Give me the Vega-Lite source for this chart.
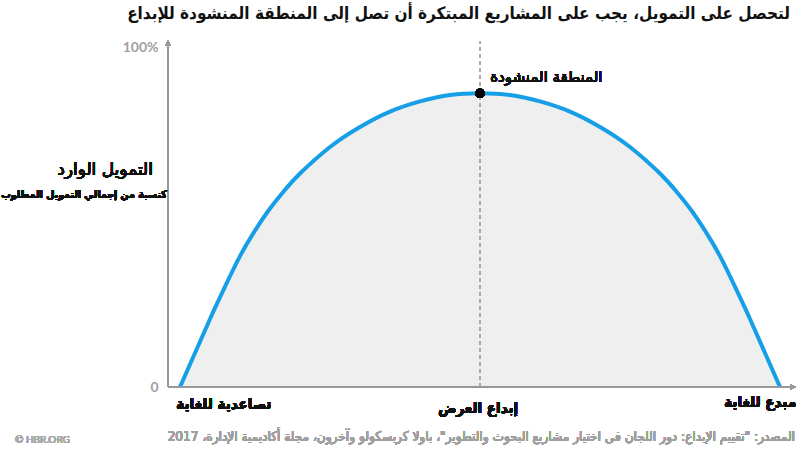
{
  "$schema": "https://vega.github.io/schema/vega-lite/v6.json",
  "autosize": "none",
  "width": 627,
  "height": 340,
  "padding": {"left": 168, "top": 47, "right": 5, "bottom": 63},
  "background": "white",
  "config": {"view": {"stroke": null}},
  "title": {
    "text": "لتحصل على التمويل، يجب على المشاريع المبتكرة أن تصل إلى المنطقة المنشودة للإبداع",
    "anchor": "end",
    "frame": "group",
    "font": "DejaVu Sans Condensed",
    "fontWeight": "bold",
    "fontSize": 17,
    "color": "#111111",
    "offset": 17,
    "dx": -5
  },
  "data": {
    "values": [
      {"pos": 0, "funding": 0},
      {"pos": 2.5, "funding": 10},
      {"pos": 5, "funding": 20},
      {"pos": 7.5, "funding": 29.5},
      {"pos": 10, "funding": 38.5},
      {"pos": 12.5, "funding": 46},
      {"pos": 15, "funding": 52.5},
      {"pos": 17.5, "funding": 58},
      {"pos": 20, "funding": 62.8},
      {"pos": 25, "funding": 70.6},
      {"pos": 30, "funding": 76.5},
      {"pos": 35, "funding": 81},
      {"pos": 40, "funding": 84},
      {"pos": 45, "funding": 85.9},
      {"pos": 50, "funding": 86.4},
      {"pos": 55, "funding": 85.9},
      {"pos": 60, "funding": 84},
      {"pos": 65, "funding": 81},
      {"pos": 70, "funding": 76.5},
      {"pos": 75, "funding": 70.6},
      {"pos": 80, "funding": 62.8},
      {"pos": 82.5, "funding": 58},
      {"pos": 85, "funding": 52.5},
      {"pos": 87.5, "funding": 46},
      {"pos": 90, "funding": 38.5},
      {"pos": 92.5, "funding": 29.5},
      {"pos": 95, "funding": 20},
      {"pos": 97.5, "funding": 10},
      {"pos": 100, "funding": 0}
    ]
  },
  "layer": [
    {
      "mark": {"type": "area", "color": "#efefef", "interpolate": "natural"},
      "encoding": {
        "x": {"field": "pos", "type": "quantitative", "scale": {"domain": [-2, 102.5], "nice": false, "zero": false}, "axis": null},
        "y": {
          "field": "funding", "type": "quantitative",
          "scale": {"domain": [0, 100], "nice": false},
          "axis": {
            "values": [0, 100],
            "labelExpr": "datum.value == 100 ? '100%' : '0'",
            "domain": false, "ticks": false, "grid": false, "title": null,
            "labelColor": "#a0a0a0", "labelFont": "Lato", "labelFontSize": 14,
            "labelFontWeight": "bold", "labelPadding": 10
          }
        }
      }
    },
    {
      "mark": {"type": "rule", "color": "#aaaaaa", "strokeDash": [4, 3], "strokeWidth": 1},
      "encoding": {"x": {"datum": 50}, "y": {"datum": 0}, "y2": {"datum": 101.5}}
    },
    {
      "mark": {"type": "line", "color": "#169fe6", "strokeWidth": 4, "interpolate": "natural"},
      "encoding": {
        "x": {"field": "pos", "type": "quantitative"},
        "y": {"field": "funding", "type": "quantitative"}
      }
    },
    {
      "mark": {"type": "rule", "color": "#999999", "strokeWidth": 1.5},
      "encoding": {"x": {"datum": -2}, "y": {"datum": 0}, "y2": {"datum": 100.5}}
    },
    {
      "mark": {"type": "rule", "color": "#999999", "strokeWidth": 1.5},
      "encoding": {"x": {"datum": -2}, "x2": {"datum": 101.8}, "y": {"datum": 0}}
    },
    {
      "mark": {"type": "point", "shape": "triangle-up", "filled": true, "color": "#999999", "size": 30, "opacity": 1},
      "encoding": {"x": {"datum": -2}, "y": {"datum": 101.2}}
    },
    {
      "mark": {"type": "point", "shape": "triangle-right", "filled": true, "color": "#999999", "size": 30, "opacity": 1},
      "encoding": {"x": {"datum": 102.2}, "y": {"datum": 0}}
    },
    {
      "mark": {"type": "point", "filled": true, "color": "#000000", "size": 90, "opacity": 1},
      "encoding": {"x": {"datum": 50}, "y": {"datum": 86.4}}
    },
    {
      "mark": {"type": "text", "align": "left", "baseline": "middle", "font": "DejaVu Sans", "fontSize": 15, "color": "#111111"},
      "encoding": {"x": {"datum": 51.7}, "y": {"datum": 91.2}, "text": {"value": "المنطقة المنشودة"}}
    },
    {
      "mark": {"type": "text", "align": "right", "baseline": "middle", "font": "DejaVu Sans", "fontSize": 17, "color": "#111111"},
      "encoding": {"x": {"datum": -4.5}, "y": {"datum": 63.8}, "text": {"value": "التمويل الوارد"}}
    },
    {
      "mark": {"type": "text", "align": "right", "baseline": "middle", "font": "DejaVu Sans Condensed", "fontWeight": "bold", "fontSize": 10.5, "color": "#111111"},
      "encoding": {"x": {"datum": -2.2}, "y": {"datum": 56.5}, "text": {"value": "كنسبة من إجمالي التمويل المطلوب"}}
    },
    {
      "mark": {"type": "text", "align": "center", "baseline": "middle", "font": "DejaVu Sans Condensed", "fontWeight": "bold", "fontSize": 15, "color": "#111111"},
      "encoding": {"x": {"datum": 7.3}, "y": {"datum": -5.1}, "text": {"value": "تصاعدية للغاية"}}
    },
    {
      "mark": {"type": "text", "align": "center", "baseline": "middle", "font": "DejaVu Sans Condensed", "fontWeight": "bold", "fontSize": 15, "color": "#111111"},
      "encoding": {"x": {"datum": 49.7}, "y": {"datum": -6.2}, "text": {"value": "إبداع العرض"}}
    },
    {
      "mark": {"type": "text", "align": "center", "baseline": "middle", "font": "DejaVu Sans Condensed", "fontWeight": "bold", "fontSize": 15, "color": "#111111"},
      "encoding": {"x": {"datum": 96.7}, "y": {"datum": -4.5}, "text": {"value": "مبدع للغاية"}}
    },
    {
      "mark": {"type": "text", "align": "right", "baseline": "middle", "font": "DejaVu Sans Condensed", "fontSize": 13.5, "color": "#a0a0a0"},
      "encoding": {"x": {"datum": 102.5}, "y": {"datum": -14.7}, "text": {"value": "المصدر: \"تقييم الإبداع: دور اللجان في اختيار مشاريع البحوث والتطوير\"، باولا كريسكولو وآخرون، مجلة أكاديمية الإدارة، 2017"}}
    },
    {
      "mark": {"type": "text", "align": "left", "baseline": "middle", "font": "Lato", "fontSize": 10, "color": "#aaaaaa"},
      "encoding": {"x": {"datum": -27.5}, "y": {"datum": -15.6}, "text": {"value": "© HBR.ORG"}}
    }
  ]
}
